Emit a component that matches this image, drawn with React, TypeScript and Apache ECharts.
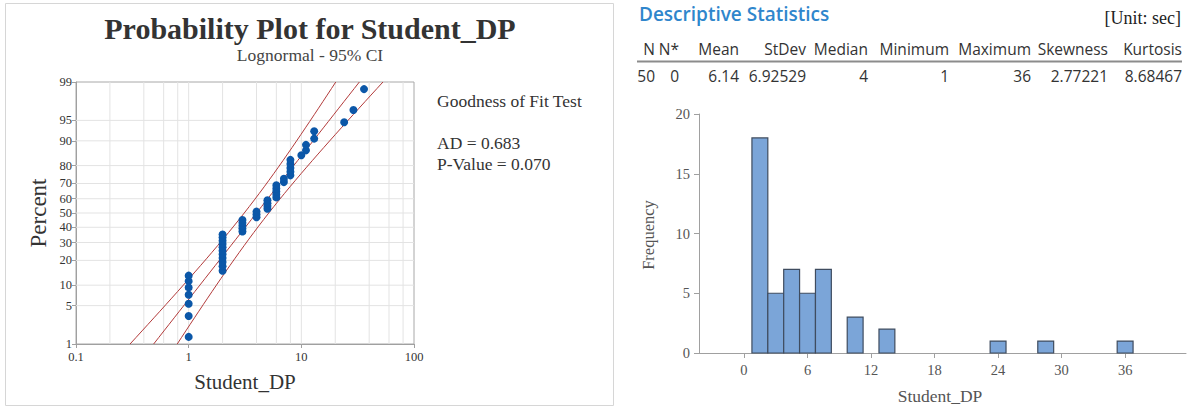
import React, { useEffect, useRef } from "react";
import * as echarts from "echarts";

// Observed Student_DP times (sec) and how many students had each value
const dpValues = [1, 2, 3, 4, 5, 6, 7, 8, 10, 11, 13, 24, 29, 36];
const dpCounts = [7, 11, 5, 3, 4, 5, 2, 5, 1, 2, 2, 1, 1, 1];

// Histogram bins (width 1.5 sec): bin centres and frequencies
const binWidth = 1.5;
const binCenters = [1.5, 3, 4.5, 6, 7.5, 10.5, 13.5, 24, 28.5, 36];
const binFreq = [18, 5, 7, 5, 7, 3, 2, 1, 1, 1];

// Probability-axis tick labels (percent) and reference grid positions
const pctTicks = [1, 5, 10, 20, 30, 40, 50, 60, 70, 80, 90, 95, 99];
const pctGrid = [5, 10, 20, 30, 40, 50, 60, 70, 80, 90, 95];
const logGrid = [0.2, 0.4, 0.6, 0.8, 1, 2, 4, 6, 8, 10, 20, 40, 60, 80];
const histTicks = [0, 6, 12, 18, 24, 30, 36];

// Descriptive statistics table
const statHeaders = ["N", "N*", "Mean", "StDev", "Median", "Minimum", "Maximum", "Skewness", "Kurtosis"];
const statValues = ["50", "0", "6.14", "6.92529", "4", "1", "36", "2.77221", "8.68467"];
const statColRight = [655, 679, 739, 806, 868, 949, 1031, 1108, 1182];

const adText = "AD = 0.683";
const pText = "P-Value = 0.070";

// Inverse standard normal CDF (Acklam's rational approximation)
function probit(p: number): number {
  const a = [-3.969683028665376e1, 2.209460984245205e2, -2.759285104469687e2, 1.38357751867269e2, -3.066479806614716e1, 2.506628277459239];
  const b = [-5.447609879822406e1, 1.615858368580409e2, -1.556989798598866e2, 6.680131188771972e1, -1.328068155288572e1];
  const c = [-7.784894002430293e-3, -3.223964580411365e-1, -2.400758277161838, -2.549732539343734, 4.374664141464968, 2.938163982698783];
  const d = [7.784695709041462e-3, 3.224671290700398e-1, 2.445134137142996, 3.754408661907416];
  const pl = 0.02425;
  if (p < pl) {
    const q = Math.sqrt(-2 * Math.log(p));
    return (((((c[0] * q + c[1]) * q + c[2]) * q + c[3]) * q + c[4]) * q + c[5]) / ((((d[0] * q + d[1]) * q + d[2]) * q + d[3]) * q + 1);
  }
  if (p > 1 - pl) {
    const q = Math.sqrt(-2 * Math.log(1 - p));
    return -(((((c[0] * q + c[1]) * q + c[2]) * q + c[3]) * q + c[4]) * q + c[5]) / ((((d[0] * q + d[1]) * q + d[2]) * q + d[3]) * q + 1);
  }
  const q = p - 0.5;
  const r = q * q;
  return ((((((a[0] * r + a[1]) * r + a[2]) * r + a[3]) * r + a[4]) * r + a[5]) * q) / (((((b[0] * r + b[1]) * r + b[2]) * r + b[3]) * r + b[4]) * r + 1);
}

const SERIF = "'Liberation Serif', 'Times New Roman', serif";
const SANS = "'Open Sans', 'Noto Sans', sans-serif";

function buildOption() {
  // sorted sample
  const sample: number[] = [];
  dpValues.forEach((v, i) => {
    for (let k = 0; k < dpCounts[i]; k++) sample.push(v);
  });
  const n = sample.length;

  // median-rank plotting positions
  const points = sample.map((v, i) => [v, probit((i + 1 - 0.3) / (n + 0.4))]);

  // lognormal ML fit
  const logs = sample.map((v) => Math.log(v));
  const mu = logs.reduce((s, v) => s + v, 0) / n;
  const sigma = Math.sqrt(logs.reduce((s, v) => s + (v - mu) * (v - mu), 0) / n);

  const zMin = probit(0.01);
  const zMax = probit(0.99);
  const fit: number[][] = [];
  const lo: number[][] = [];
  const hi: number[][] = [];
  const steps = 40;
  for (let k = 0; k <= steps; k++) {
    const z = zMin + ((zMax - zMin) * k) / steps;
    const m = mu + z * sigma;
    const se = sigma * Math.sqrt(1 / n + (z * z) / (2 * n));
    fit.push([Math.exp(m), z]);
    lo.push([Math.exp(m - 1.959964 * se), z]);
    hi.push([Math.exp(m + 1.959964 * se), z]);
  }

  const zTicks = pctTicks.map((p) => probit(p / 100));
  const gridColor = "#e3e3e3";
  const red = "#b23a3a";
  const axisGray = "#a0a0a0";

  const txt = (x: number, y: number, text: string, font: string, fill: string, align = "left", rotation = 0) => ({
    type: "text",
    x,
    y,
    rotation,
    style: { text, align, verticalAlign: "middle", font, fill },
  });

  const graphics: any[] = [
    {
      type: "rect",
      shape: { x: 5.5, y: 3.5, width: 608, height: 402 },
      style: { fill: "none", stroke: "#d6d6d6", lineWidth: 1 },
      silent: true,
    },
    txt(310, 28, "Probability Plot for Student_DP", `bold 30px ${SERIF}`, "#333", "center"),
    txt(310, 55, "Lognormal - 95% CI", `17.5px ${SERIF}`, "#444", "center"),
    txt(38, 213, "Percent", `23px ${SERIF}`, "#333", "center", Math.PI / 2),
    txt(245, 382, "Student_DP", `21px ${SERIF}`, "#333", "center"),
    txt(437, 101, "Goodness of Fit Test", `17.5px ${SERIF}`, "#333"),
    txt(437, 143, adText, `17.5px ${SERIF}`, "#333"),
    txt(437, 164, pText, `17.5px ${SERIF}`, "#333"),
    txt(639, 14, "Descriptive Statistics", `600 19px ${SANS}`, "#2f86cc"),
    txt(1181, 18, "[Unit: sec]", `18px ${SERIF}`, "#222", "right"),
    {
      type: "line",
      shape: { x1: 637, y1: 61.5, x2: 1182, y2: 61.5 },
      style: { stroke: "#8c8c8c", lineWidth: 2 },
      silent: true,
    },
    txt(648, 235, "Frequency", `16.5px ${SERIF}`, "#555", "center", Math.PI / 2),
    txt(940, 396, "Student_DP", `17.5px ${SERIF}`, "#555", "center"),
  ];
  statHeaders.forEach((h, i) => {
    graphics.push(txt(statColRight[i], 49, h, `15.5px ${SANS}`, "#333", "right"));
    graphics.push(txt(statColRight[i], 76, statValues[i], `15.5px ${SANS}`, "#333", "right"));
  });

  const lineSeries = (d: number[][]) => ({
    type: "line",
    xAxisIndex: 0,
    yAxisIndex: 0,
    data: d,
    showSymbol: false,
    symbol: "none",
    silent: true,
    lineStyle: { color: red, width: 1 },
    z: 3,
  });

  return {
    animation: false,
    backgroundColor: "#fff",
    textStyle: { fontFamily: SERIF },
    grid: [
      { left: 76, top: 82, width: 338, height: 262, show: true, borderColor: "#a8a8a8", borderWidth: 1, backgroundColor: "transparent" },
      { left: 699, top: 114, width: 487, height: 239, show: false },
    ],
    xAxis: [
      {
        type: "log",
        logBase: 10,
        gridIndex: 0,
        min: 0.1,
        max: 100,
        position: "bottom",
        axisLine: { show: true, onZero: false, lineStyle: { color: axisGray } },
        axisTick: { show: true, length: 4, lineStyle: { color: axisGray } },
        axisLabel: { color: "#333", fontFamily: SERIF, fontSize: 12.5, margin: 6, formatter: (v: number) => String(v) },
        splitLine: { show: false },
      },
      {
        type: "value",
        gridIndex: 1,
        min: -4.25,
        max: 41.75,
        position: "bottom",
        axisLine: { show: true, onZero: false, lineStyle: { color: axisGray } },
        axisTick: { show: true, length: 5, customValues: histTicks, lineStyle: { color: axisGray } },
        axisLabel: { color: "#555", fontFamily: SERIF, fontSize: 14.5, margin: 9, customValues: histTicks },
        splitLine: { show: false },
      },
    ],
    yAxis: [
      {
        type: "value",
        gridIndex: 0,
        min: zMin,
        max: zMax,
        position: "left",
        axisLine: { show: true, onZero: false, lineStyle: { color: axisGray } },
        axisTick: { show: true, length: 4, customValues: zTicks, lineStyle: { color: axisGray } },
        axisLabel: {
          color: "#333",
          fontFamily: SERIF,
          fontSize: 12.5,
          margin: 4,
          customValues: zTicks,
          formatter: (v: number) => {
            const i = zTicks.findIndex((z) => Math.abs(z - v) < 1e-6);
            return i >= 0 ? String(pctTicks[i]) : "";
          },
        },
        splitLine: { show: false },
      },
      {
        type: "value",
        gridIndex: 1,
        min: 0,
        max: 20,
        interval: 5,
        position: "left",
        axisLine: { show: true, onZero: false, lineStyle: { color: axisGray } },
        axisTick: { show: true, length: 5, lineStyle: { color: axisGray } },
        axisLabel: { color: "#555", fontFamily: SERIF, fontSize: 14.5, margin: 9 },
        splitLine: { show: false },
      },
    ],
    series: [
      {
        // vertical reference lines of the probability plot
        type: "custom",
        xAxisIndex: 0,
        yAxisIndex: 0,
        data: logGrid.map((x) => [x]),
        silent: true,
        z: 1,
        renderItem: (params: any, api: any) => {
          const x = api.value(0);
          const a = api.coord([x, zMin]);
          const b = api.coord([x, zMax]);
          return {
            type: "line",
            shape: { x1: a[0], y1: a[1], x2: b[0], y2: b[1] },
            style: { stroke: gridColor, lineWidth: 1 },
          };
        },
      },
      {
        // horizontal reference lines of the probability plot
        type: "custom",
        xAxisIndex: 0,
        yAxisIndex: 0,
        data: pctGrid.map((p) => [1, probit(p / 100)]),
        silent: true,
        z: 1,
        renderItem: (params: any, api: any) => {
          const z = api.value(1);
          const a = api.coord([0.1, z]);
          const b = api.coord([100, z]);
          return {
            type: "line",
            shape: { x1: a[0], y1: a[1], x2: b[0], y2: b[1] },
            style: { stroke: gridColor, lineWidth: 1 },
          };
        },
      },
      lineSeries(lo),
      lineSeries(fit),
      lineSeries(hi),
      {
        type: "scatter",
        xAxisIndex: 0,
        yAxisIndex: 0,
        data: points,
        symbol: "circle",
        symbolSize: 8,
        silent: true,
        itemStyle: { color: "#0b57a8", opacity: 1, borderWidth: 0 },
        z: 4,
      },
      {
        type: "custom",
        xAxisIndex: 1,
        yAxisIndex: 1,
        data: binCenters.map((c, i) => [c, binFreq[i]]),
        silent: true,
        renderItem: (params: any, api: any) => {
          const c = api.value(0);
          const f = api.value(1);
          const p0 = api.coord([c - binWidth / 2, f]);
          const p1 = api.coord([c + binWidth / 2, 0]);
          return {
            type: "rect",
            shape: { x: p0[0], y: p0[1], width: p1[0] - p0[0], height: p1[1] - p0[1] },
            style: { fill: "#7ba5d8", stroke: "#3f4c5f", lineWidth: 1.2 },
          };
        },
        z: 2,
      },
    ],
    graphic: graphics,
  };
}

export default function App() {
  const ref = useRef<HTMLDivElement>(null);
  useEffect(() => {
    if (!ref.current) return;
    const chart = echarts.init(ref.current, undefined, { renderer: "svg" });
    chart.setOption(buildOption() as any);
    return () => chart.dispose();
  }, []);
  return (
    <div
      ref={ref}
      style={{ position: "absolute", left: 0, top: 0, width: 1189, height: 410, background: "#fff" }}
    />
  );
}
